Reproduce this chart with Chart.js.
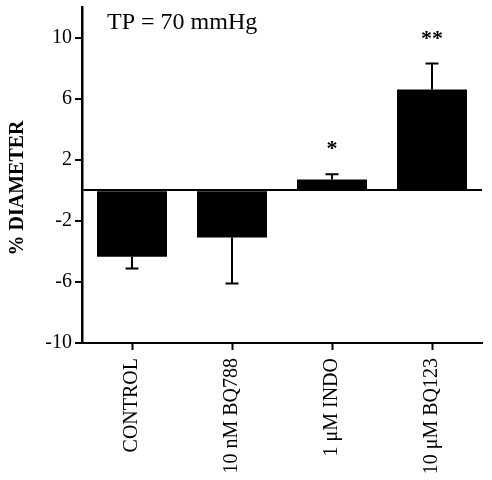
<!DOCTYPE html>
<html>
<head>
<meta charset="utf-8">
<script src="https://cdn.jsdelivr.net/npm/chart.js@4"></script>
<style>
  html, body { margin: 0; padding: 0; background: #fff; }
  #wrap { width: 492px; height: 480px; }
</style>
</head>
<body>
<div id="wrap"><canvas id="chart" width="492" height="480"></canvas></div>
<script>
// values
var groups = ['CONTROL', '10 nM BQ788', '1 \u03bcM INDO', '10 \u03bcM BQ123'];
var diameter = [-4.35, -3.1, 0.7, 6.6];
var sem = [0.77, 3.0, 0.35, 1.7];
var marks = ['', '', '*', '**'];
var yTicks = [-10, -6, -2, 0, 2, 6, 10];
var titleText = 'TP = 70 mmHg';
var yTitle = '% DIAMETER';

var serif = '"Liberation Serif", "Times New Roman", serif';

// error bars (one side, away from zero) and significance marks
var errorBars = {
	id: 'errorBars',
	afterDatasetsDraw: function(chart) {
		var ctx = chart.ctx;
		var xs = chart.scales.x, ys = chart.scales.y;
		ctx.save();
		ctx.strokeStyle = '#000';
		ctx.lineWidth = 2;
		for (var i = 0; i < diameter.length; i++) {
			var x = xs.getPixelForValue(i);
			var sign = diameter[i] < 0 ? -1 : 1;
			var y0 = ys.getPixelForValue(diameter[i]);
			var y1 = ys.getPixelForValue(diameter[i] + sign * sem[i]);
			ctx.beginPath();
			ctx.moveTo(x, y0);
			ctx.lineTo(x, y1);
			ctx.moveTo(x - 6.5, y1);
			ctx.lineTo(x + 6.5, y1);
			ctx.stroke();
			if (marks[i]) {
				ctx.fillStyle = '#000';
				ctx.font = 'bold 22px ' + serif;
				ctx.textAlign = 'center';
				ctx.textBaseline = 'alphabetic';
				ctx.fillText(marks[i], x, y1 - 27 + 8);
			}
		}
		ctx.restore();
	}
};

// panel label and rotated y title
var labels = {
	id: 'labels',
	afterDraw: function(chart) {
		var ctx = chart.ctx;
		ctx.save();
		ctx.fillStyle = '#000';
		ctx.font = '24px ' + serif;
		ctx.textAlign = 'left';
		ctx.textBaseline = 'alphabetic';
		ctx.fillText(titleText, 107, 29);
		ctx.translate(23, 188);
		ctx.rotate(-Math.PI / 2);
		ctx.font = 'bold 20px ' + serif;
		ctx.textAlign = 'center';
		ctx.fillText(yTitle, 0, 0);
		ctx.restore();
	}
};

var chartdata = {
	labels: groups,
	datasets: [
		{
			label: '% diameter',
			data: diameter,
			backgroundColor: '#000',
			borderWidth: 0,
			barPercentage: 0.7,
			categoryPercentage: 1.0
		}
	]
};

var ctx = document.getElementById('chart');
var myChart = new Chart(ctx, {
	type: 'bar',
	data: chartdata,
	plugins: [errorBars, labels],
	options: {
		responsive: false,
		animation: false,
		layout: { padding: { top: 7, right: 10, left: 0, bottom: 0 } },
		plugins: {
			legend: { display: false },
			tooltip: { enabled: false }
		},
		scales: {
			x: {
				grid: {
					offset: false,
					drawOnChartArea: false,
					tickLength: 7,
					tickWidth: 2,
					tickColor: '#000'
				},
				border: { display: true, color: '#000', width: 2 },
				ticks: {
					color: '#000',
					font: { family: serif, size: 20 },
					minRotation: 90,
					maxRotation: 90,
					padding: 8
				},
				afterFit: function(scale) {
					scale.height = 137;
					scale.paddingLeft = 0;
					scale.paddingRight = 0;
				}
			},
			y: {
				min: -10,
				max: 12,
				afterBuildTicks: function(scale) {
					scale.ticks = yTicks.map(function(v) { return { value: v }; });
				},
				grid: {
					drawOnChartArea: true,
					tickLength: 7,
					lineWidth: 2,
					tickWidth: 2,
					color: function(c) { return c.tick && c.tick.value === 0 ? '#000' : 'rgba(0,0,0,0)'; },
					tickColor: function(c) { return c.tick && c.tick.value === 0 ? 'rgba(0,0,0,0)' : '#000'; }
				},
				border: { display: true, color: '#000', width: 2.5 },
				ticks: {
					color: '#000',
					font: { family: serif, size: 20 },
					padding: 3,
					callback: function(v) { return v === 0 ? '' : String(v); }
				},
				afterFit: function(scale) {
					scale.width = 82;
					scale.paddingTop = 0;
					scale.paddingBottom = 0;
				}
			}
		}
	}
});
</script>
</body>
</html>
